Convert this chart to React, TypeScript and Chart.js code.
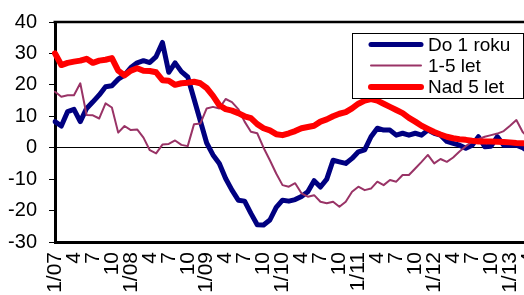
import { useEffect, useRef } from 'react';
import { Chart, registerables } from 'chart.js';

Chart.register(...registerables);

const categories = [
  '1/07', '2/07', '3/07', '4/07', '5/07', '6/07', '7/07', '8/07', '9/07', '10/07', '11/07', '12/07',
  '1/08', '2/08', '3/08', '4/08', '5/08', '6/08', '7/08', '8/08', '9/08', '10/08', '11/08', '12/08',
  '1/09', '2/09', '3/09', '4/09', '5/09', '6/09', '7/09', '8/09', '9/09', '10/09', '11/09', '12/09',
  '1/10', '2/10', '3/10', '4/10', '5/10', '6/10', '7/10', '8/10', '9/10', '10/10', '11/10', '12/10',
  '1/11', '2/11', '3/11', '4/11', '5/11', '6/11', '7/11', '8/11', '9/11', '10/11', '11/11', '12/11',
  '1/12', '2/12', '3/12', '4/12', '5/12', '6/12', '7/12', '8/12', '9/12', '10/12', '11/12', '12/12',
  '1/13', '2/13', '3/13', '4/13',
];

const tickLabels = [
  '1/07', '4', '7', '10', '1/08', '4', '7', '10', '1/09', '4', '7', '10', '1/10', '4', '7', '10',
  '1/11', '4', '7', '10', '1/12', '4', '7', '10', '1/13', '4',
];

const seriesNames = ['Do 1 roku', '1-5 let', 'Nad 5 let'];

const do1Roku = [
  8.3, 6.9, 11.5, 12.2, 8.3, 12.5, 14.6, 16.8, 19.4, 19.7,
  21.8, 23.1, 25.5, 27, 27.7, 27.1, 29, 33.5, 24, 27,
  24.2, 22.5, 15.5, 8.5, 1.5, -2.3, -5, -9.8, -13.5, -16.7,
  -17, -20.9, -24.5, -24.6, -23, -19, -16.7, -17, -16.5, -15.5,
  -14, -10.5, -12.5, -10, -4, -4.5, -5, -3.4, -1.3, -0.7,
  3.5, 6.2, 5.6, 5.6, 4, 4.6, 4, 4.6, 4, 5.6,
  4.6, 4, 2, 1.4, 0.8, -0.2, 0.8, 3.5, 0.3, 0.5,
  3.5, 0.8, 0.8, 0.8, 0, -1.3,
];

const let1az5 = [
  17.8, 16.2, 16.7, 16.7, 20.5, 10.4, 10.3, 9.3, 14.1, 12.8,
  4.8, 6.9, 5.6, 5.8, 3.2, -0.8, -1.8, 1, 1.2, 2.3,
  0.9, 0.5, 7.5, 7.7, 12.5, 13, 12.5, 15.5, 14.5, 12.3,
  8.3, 5.1, 4.6, 0, -4, -8.2, -11.9, -12.4, -11.3, -14.5,
  -15.6, -15.1, -17.2, -17.7, -17.2, -18.8, -17.2, -14, -12.4, -13.5,
  -13, -10.8, -11.9, -10.3, -10.8, -8.7, -8.7, -6.6, -4.5, -2.3,
  -5, -3.6, -4.5, -3.1, -1.2, 0.5, 1.9, 2.7, 3.5, 4,
  4.5, 5.3, 7, 8.8, 5, 3,
];

const nad5Let = [
  30, 26.3, 27, 27.4, 27.7, 28.3, 27, 27.7, 28, 28.5,
  24.5, 23, 24.5, 25.3, 24.5, 24.4, 24, 21.5, 21.3, 20,
  20.5, 20.7, 21, 20.5, 19, 16.5, 13.5, 12.3, 11.8, 11,
  10, 9.4, 7.5, 6.2, 5.5, 4.3, 4, 4.6, 5.3, 6.2,
  6.6, 7, 8.3, 9, 10, 10.8, 11.3, 12.5, 14, 15,
  15.5, 15, 14, 13, 12, 11, 9.5, 8.3, 7, 6,
  5, 4.2, 3.5, 3, 2.7, 2.5, 2.2, 2, 2, 2,
  1.9, 1.8, 1.7, 1.5, 1.4, 1.3,
];

const FONT = '"Liberation Sans", Arial, sans-serif';

const framePlugin = {
  id: 'frameAndLegend',
  afterDraw(chart: any) {
    const { ctx, chartArea: a } = chart;
    ctx.save();
    // top border of the plot
    ctx.strokeStyle = '#000';
    ctx.lineWidth = 2.5;
    ctx.beginPath();
    ctx.moveTo(a.left - 1.5, a.top);
    ctx.lineTo(a.right + 5, a.top);
    ctx.stroke();

    // legend box
    const bx = 352.5, by = 33.5, bw = 171, bh = 65;
    ctx.fillStyle = '#fff';
    ctx.fillRect(bx, by, bw, bh);
    ctx.strokeStyle = '#000';
    ctx.lineWidth = 1;
    ctx.strokeRect(bx, by, bw, bh);
    const rows = [44.5, 65.5, 87];
    const ds = chart.data.datasets;
    ctx.font = '19px ' + FONT;
    ctx.textBaseline = 'middle';
    ctx.textAlign = 'left';
    for (let i = 0; i < ds.length; i++) {
      const d = ds[i];
      ctx.strokeStyle = d.borderColor;
      ctx.lineWidth = d.borderWidth;
      ctx.lineCap = 'round';
      ctx.beginPath();
      ctx.moveTo(371, rows[i]);
      ctx.lineTo(421, rows[i]);
      ctx.stroke();
      ctx.fillStyle = '#000';
      ctx.fillText(d.label, 428, rows[i] + 1);
    }
    ctx.restore();
  },
};

export default function App() {
  const ref = useRef<HTMLCanvasElement | null>(null);

  useEffect(() => {
    if (!ref.current) return;
    const chart = new Chart(ref.current, {
      type: 'line',
      data: {
        labels: categories,
        datasets: [
          { label: seriesNames[0], data: do1Roku, borderColor: '#000080', borderWidth: 5, order: 2 },
          { label: seriesNames[1], data: let1az5, borderColor: '#993366', borderWidth: 2, order: 1 },
          { label: seriesNames[2], data: nad5Let, borderColor: '#ff0000', borderWidth: 6, order: 0 },
        ],
      },
      options: {
        responsive: false,
        animation: false,
        events: [],
        layout: { padding: { top: 22, right: 1, left: 0, bottom: 0 } },
        elements: {
          point: { radius: 0 },
          line: { tension: 0, borderJoinStyle: 'round', borderCapStyle: 'round', fill: false },
        },
        plugins: { legend: { display: false }, tooltip: { enabled: false } },
        scales: {
          x: {
            type: 'category',
            offset: false,
            ticks: {
              autoSkip: false,
              maxRotation: 90,
              minRotation: 90,
              padding: 10,
              color: '#000',
              font: { size: 21, family: FONT },
              callback: (_v: any, i: number) => (i % 3 === 0 ? tickLabels[i / 3] : ''),
            },
            grid: { display: false, drawTicks: false },
            border: { display: true, color: '#000', width: 3 },
            afterFit: (s: any) => {
              s.height = 53;
              s.paddingLeft = 0;
              s.paddingRight = 0;
            },
          },
          y: {
            min: -30,
            max: 40,
            ticks: {
              stepSize: 10,
              padding: 12,
              color: '#000',
              font: { size: 20, family: FONT },
            },
            grid: {
              color: (c: any) => (c.tick && c.tick.value === 0 ? '#000' : 'rgba(0,0,0,0)'),
              tickColor: '#000',
              tickLength: 6,
              lineWidth: 1,
            },
            border: { display: true, color: '#000', width: 3 },
            afterFit: (s: any) => {
              s.width = 55;
              s.paddingTop = 0;
              s.paddingBottom = 0;
            },
          },
        },
      },
      plugins: [framePlugin],
    } as any);
    return () => chart.destroy();
  }, []);

  return (
    <div style={{ position: 'fixed', left: 0, top: 0, width: 530, height: 295, background: '#fff' }}>
      <canvas ref={ref} width={530} height={295} style={{ display: 'block' }} />
    </div>
  );
}
